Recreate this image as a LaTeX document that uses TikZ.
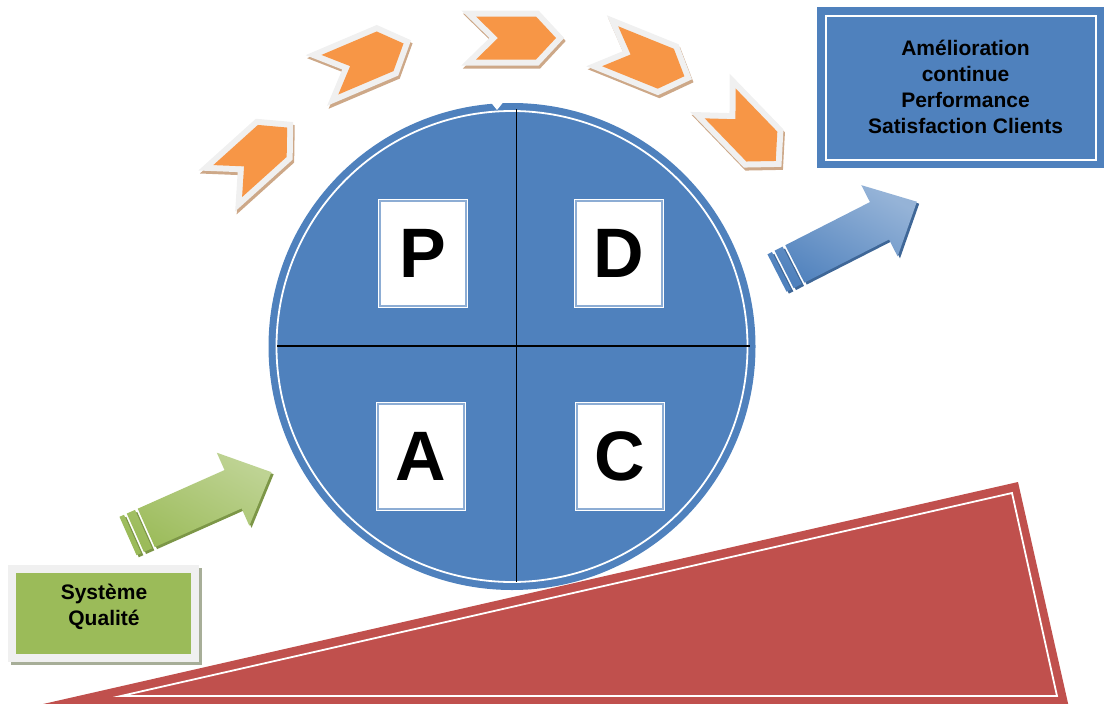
\documentclass[tikz,border=0pt]{standalone}
\usepackage{fontspec}
\setmainfont{Liberation Sans}
\definecolor{oblue}{HTML}{4F81BD}
\definecolor{ored}{HTML}{C0504D}
\definecolor{ogreen}{HTML}{9BBB59}
\definecolor{oorange}{HTML}{F79646}
\definecolor{cgray}{HTML}{F0F0F0}
\definecolor{ctan}{HTML}{CDA888}
\definecolor{qshadow}{HTML}{A7AE98}
\tikzset{
  lbox/.style={fill=white, draw=white, double=oblue!65!white, double distance=2,
    line width=1, minimum width=86, minimum height=105, inner sep=0,
    font=\fontsize{70}{80}\selectfont\bfseries},
  boxtext/.style={align=center, inner sep=0, text=black,
    font=\fontsize{21}{26}\selectfont\bfseries},
  chevshadow/.style={fill=ctan, draw=ctan, line width=12, line join=miter},
  chevborder/.style={fill=cgray, draw=cgray, line width=12, line join=miter},
  chevfill/.style={fill=oorange},
  divline/.style={black, line width=1.1},
}
\newcommand\orangechev[3]{%
  \begin{scope}[shift={(#1+1.5,#2+3)},rotate=#3]
    \filldraw[chevshadow] (-30,-21.5) -- (30,-21.5) -- (50,0) -- (30,21.5) -- (-30,21.5) -- (-8,0) -- cycle;
  \end{scope}
  \begin{scope}[shift={(#1,#2)},rotate=#3]
    \filldraw[chevborder] (-30,-21.5) -- (30,-21.5) -- (50,0) -- (30,21.5) -- (-30,21.5) -- (-8,0) -- cycle;
    \fill[chevfill] (-30,-21.5) -- (30,-21.5) -- (50,0) -- (30,21.5) -- (-30,21.5) -- (-8,0) -- cycle;
  \end{scope}}
\newcommand\fatarrow[5]{%
  \begin{scope}[shift={(#1,#2)},rotate=#3]
    \begin{scope}[shift={(1.2,2.8)}]
      \fill[#5!80!black] (20,-21) -- (115,-21) -- (115,-40) -- (157,0) -- (115,40) -- (115,21) -- (20,21) -- cycle
        (0,-21) rectangle (5,21) (8,-21) rectangle (17,21);
    \end{scope}
    \shade[top color=#4, bottom color=#5, shading angle=-30]
      (20,-21) -- (115,-21) -- (115,-40) -- (157,0) -- (115,40) -- (115,21) -- (20,21) -- cycle
      (0,-21) rectangle (5,21) (8,-21) rectangle (17,21);
  \end{scope}}
\begin{document}
\begin{tikzpicture}[x=1pt,y=-1pt]
\useasboundingbox (0,0) rectangle (1106,704);
\clip (0,0) rectangle (1106,704);

% red wedge
\fill[ored] (8,712) -- (1018,482) -- (1070,712) -- cycle;
\draw[white, line width=1.8, line join=miter] (121,696) -- (1012,493) -- (1057,696) -- cycle;

% PDCA circle
\node[circle, fill=oblue, minimum size=487, inner sep=0] (pdca) at (512,346.5) {};
\draw[white, line width=1.8] (pdca.center) circle [radius=235.5];
\fill[white] (491,102.5) -- (503,102.5) -- (497,110) -- cycle;
\coordinate (vtop) at (516.7,109);
\coordinate (vbot) at (516.7,582);
\coordinate (hleft) at (277,346);
\coordinate (hright) at (750,346);
\draw[divline] (vtop) -- (vbot);
\draw[divline] (hleft) -- (hright);

\node[lbox] (P) at (423,253.5) {P};
\node[lbox] (D) at (619,253) {D};
\node[lbox] (A) at (421,456) {A};
\node[lbox] (C) at (619.5,456) {C};

% orange chevrons
\orangechev{250}{161}{42}
\orangechev{357.5}{63}{23}
\orangechev{506}{38}{0}
\orangechev{638}{57.5}{-22}
\orangechev{741}{125}{-46}

% goal box
\node[fill=oblue, draw=oblue, line width=7.5, double=white, double distance=2,
      minimum width=270, minimum height=144, inner sep=0] (goal) at (960.5,87.5) {};
\node[boxtext, anchor=base] (goaltxt) at (965.5,133)
  {Amélioration\\continue\\Performance\\Satisfaction Clients};

% quality box
\fill[qshadow] (11,568) rectangle (202,665);
\node[fill=ogreen, draw=cgray, line width=8, minimum width=183, minimum height=89.5,
      inner sep=0] (qs) at (103.5,613.5) {};
\node[boxtext, anchor=base] (qstxt) at (104,625) {Système\\Qualité};

% arrows
\fatarrow{128}{536}{24}{ogreen!65!white}{ogreen}
\fatarrow{777}{273}{27}{oblue!60!white}{oblue}
\end{tikzpicture}
\end{document}
